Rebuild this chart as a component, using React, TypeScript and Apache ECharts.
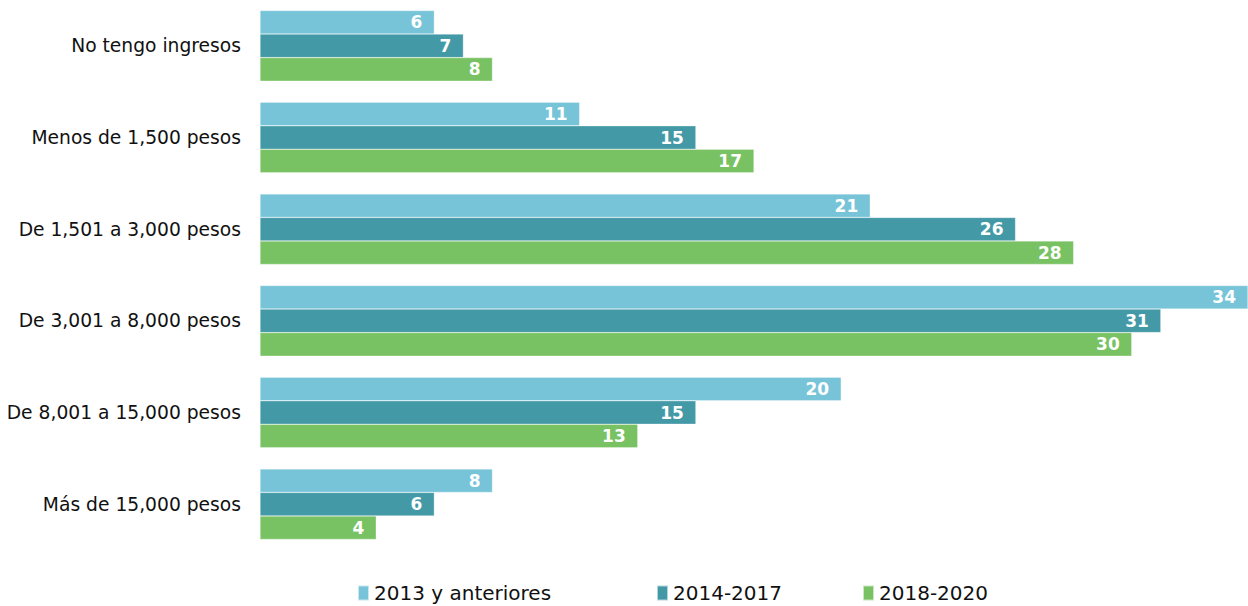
import React, { useEffect, useRef } from "react";
import * as echarts from "echarts";

const categories = [
  "No tengo ingresos",
  "Menos de 1,500 pesos",
  "De 1,501 a 3,000 pesos",
  "De 3,001 a 8,000 pesos",
  "De 8,001 a 15,000 pesos",
  "Más de 15,000 pesos",
];
const seriesNames = ["2013 y anteriores", "2014-2017", "2018-2020"];
const s2013 = [6, 11, 21, 34, 20, 8];
const s2014 = [7, 15, 26, 31, 15, 6];
const s2018 = [8, 17, 28, 30, 13, 4];
const colors = ["#77C4D8", "#4399A6", "#78C263"];
const legendLefts = [352, 651, 857];

export default function App() {
  const ref = useRef<HTMLDivElement>(null);
  useEffect(() => {
    const chart = echarts.init(ref.current!, null, { renderer: "svg" });
    const font = "'DejaVu Sans', sans-serif";
    const mk = (name: string, data: number[], i: number) => ({
      name,
      type: "bar",
      data,
      barGap: "0%",
      barCategoryGap: "23%",
      itemStyle: { color: colors[i], borderColor: "rgba(255,255,255,0.6)", borderWidth: 0.5 },
      label: {
        show: true,
        position: "insideRight",
        distance: 12,
        color: "#fff",
        fontWeight: "bold",
        fontSize: 17,
        fontFamily: font,
      },
    });
    chart.setOption({
      animation: false,
      textStyle: { fontFamily: font },
      grid: { left: 260, right: 0, top: 0, height: 550, containLabel: false },
      xAxis: { type: "value", min: 0, max: 34, show: false },
      yAxis: {
        type: "category",
        data: categories,
        inverse: true,
        axisLine: { show: false },
        axisTick: { show: false },
        splitLine: { show: false },
        axisLabel: { color: "#111", fontSize: 18.7, margin: 19, fontFamily: font },
      },
      legend: seriesNames.map((n, i) => ({
        top: 578,
        left: legendLefts[i],
        icon: "rect",
        itemWidth: 11,
        itemHeight: 15,
        itemGap: 10,
        textStyle: { color: "#111", fontSize: 20, fontFamily: font },
        data: [n],
      })),
      series: [mk(seriesNames[0], s2013, 0), mk(seriesNames[1], s2014, 1), mk(seriesNames[2], s2018, 2)],
    });
    return () => chart.dispose();
  }, []);
  return (
    <div
      ref={ref}
      style={{ position: "fixed", left: 0, top: 0, width: 1248, height: 606, background: "#fff" }}
    />
  );
}
